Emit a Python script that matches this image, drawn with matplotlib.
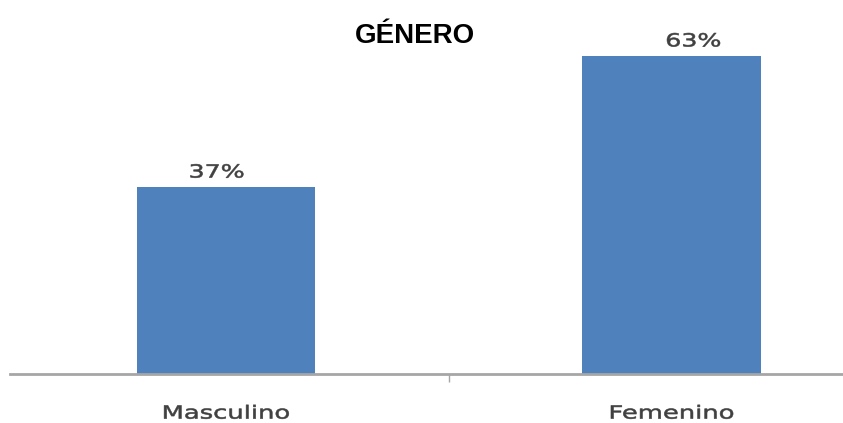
import matplotlib
matplotlib.use("Agg")
import matplotlib.pyplot as plt
from matplotlib.patheffects import AbstractPathEffect
from matplotlib.transforms import Affine2D

categories = ["Masculino", "Femenino"]
values = [37, 63]
value_labels = ["37%", "63%"]
title = "GÉNERO"


class HStretch(AbstractPathEffect):
    """Widen glyphs horizontally about the centre of the drawn text,
    with a thin outline in the fill colour to give them more weight."""

    def __init__(self, sx=1.0, stroke=0.0):
        super().__init__()
        self.sx = sx
        self.stroke = stroke

    def draw_path(self, renderer, gc, tpath, affine, rgbFace=None):
        ext = affine.transform_path(tpath).get_extents()
        cx = 0.5 * (ext.x0 + ext.x1)
        aff = affine + Affine2D().translate(-cx, 0).scale(self.sx, 1).translate(cx, 0)
        gc0 = renderer.new_gc()
        gc0.copy_properties(gc)
        if self.stroke > 0 and rgbFace is not None:
            gc0.set_foreground(rgbFace)
            gc0.set_linewidth(self.stroke)
        renderer.draw_path(gc0, tpath, aff, rgbFace)
        gc0.restore()


fig = plt.figure(figsize=(8.43, 4.23), dpi=100)
ax = fig.add_axes([10 / 843, 49 / 423, 833 / 843, 353 / 423])

x = list(range(len(categories)))
ax.bar(x, values, width=0.4, color="#4F81BD", zorder=2)

label_dx = [-0.021, 0.049]
for xi, v, lab, dx in zip(x, values, value_labels, label_dx):
    ax.text(xi + dx, v + 2.95, lab, ha="center", va="center",
            fontsize=13, color="#404040", family="DejaVu Sans",
            path_effects=[HStretch(1.4, stroke=0.4)])

ax.set_xlim(-0.485, 1.385)
ax.set_ylim(0, 70)

for side in ("top", "right", "left"):
    ax.spines[side].set_visible(False)
ax.spines["bottom"].set_color("#a6a6a6")
ax.spines["bottom"].set_linewidth(2)
ax.set_yticks([])

ax.set_xticks([0.5])
ax.set_xticklabels([""])
ax.tick_params(axis="x", length=6, width=1, color="#a6a6a6", direction="out")

for xi, cat in zip(x, categories):
    ax.text(xi, -7.85, cat, ha="center", va="center", fontsize=13,
            color="#404040", family="DejaVu Sans",
            path_effects=[HStretch(1.43, stroke=0.4)])

fig.text(415 / 843, 1 - 43 / 423, title, ha="center", va="baseline",
         fontsize=20, fontweight="bold", family="Liberation Sans", color="black")

fig.savefig("out.png", dpi=100)
